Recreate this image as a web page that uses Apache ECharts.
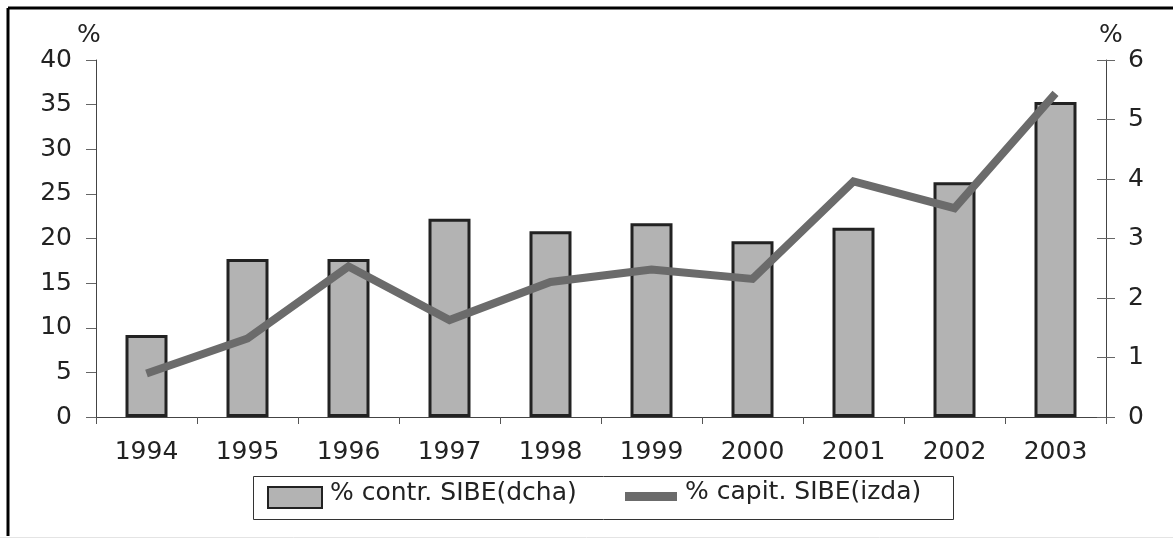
<!DOCTYPE html>
<html>
<head>
<meta charset="utf-8">
<script src="https://cdn.jsdelivr.net/npm/echarts@6/dist/echarts.min.js"></script>
<style>
	html, body { margin: 0; padding: 0; background: #fff; }
	#chart { width: 1173px; height: 538px; }
</style>
</head>
<body>
<div id="chart"></div>
<script>
	var years = ['1994', '1995', '1996', '1997', '1998', '1999', '2000', '2001', '2002', '2003'];
	var contrSibe = [9.2, 17.7, 17.7, 22.2, 20.8, 21.7, 19.7, 21.2, 26.3, 35.3];
	var capitSibe = [0.73, 1.32, 2.53, 1.63, 2.27, 2.48, 2.32, 3.96, 3.51, 5.44];
	var leftTicks = { min: 0, max: 40, interval: 5 };
	var rightTicks = { min: 0, max: 6, interval: 1 };

	var font = 'DejaVu Sans';
	// rich text so the legend label can sit a little above the icon centre
	var legendText = {
		fontFamily: font, fontSize: 25, color: '#222',
		rich: { t: { fontFamily: font, fontSize: 25, color: '#222', padding: [0, 0, 8, 3] } }
	};
	var chart = echarts.init(document.getElementById('chart'));
	chart.setOption({
		animation: false,
		textStyle: { fontFamily: font },
		grid: { left: 96, right: 67, top: 60, bottom: 121 },
		graphic: [
			{ type: 'line', shape: { x1: 8, y1: 8, x2: 1173, y2: 8 }, style: { stroke: '#000', lineWidth: 3 } },
			{ type: 'line', shape: { x1: 8, y1: 8, x2: 8, y2: 536 }, style: { stroke: '#000', lineWidth: 3 } },
			{ type: 'line', shape: { x1: 0, y1: 537.5, x2: 1173, y2: 537.5 }, style: { stroke: '#e4e4e4', lineWidth: 1 } },
			{ type: 'rect', shape: { x: 253.5, y: 476.5, width: 700, height: 43 }, style: { fill: 'none', stroke: '#333', lineWidth: 1 } }
		],
		legend: [{
			data: ['% contr. SIBE(dcha)'],
			left: 267, top: 481, padding: 0,
			itemWidth: 54, itemHeight: 21, itemGap: 0,
			icon: 'rect',
			formatter: '{t|{name}}',
			textStyle: legendText
		}, {
			data: [{ name: '% capit. SIBE(izda)', icon: 'rect', itemStyle: { color: '#6b6b6b', borderWidth: 0 } }],
			left: 625, top: 480, padding: 0,
			itemWidth: 52, itemHeight: 9,
			formatter: '{t|{name}}',
			textStyle: legendText
		}],
		xAxis: {
			type: 'category',
			data: years,
			axisLine: { lineStyle: { color: '#444', width: 1 } },
			axisTick: { show: true, interval: 0, length: 7, lineStyle: { color: '#555' } },
			axisLabel: { fontSize: 25, color: '#222', margin: 23 }
		},
		yAxis: [{
			type: 'value',
			min: leftTicks.min, max: leftTicks.max, interval: leftTicks.interval,
			name: '%', nameLocation: 'end', nameGap: 4,
			nameTextStyle: { fontSize: 25, color: '#222', padding: [0, 14, 0, 0] },
			axisLine: { show: true, lineStyle: { color: '#444' } },
			axisTick: { show: true, length: 10, lineStyle: { color: '#666' } },
			axisLabel: { fontSize: 25, color: '#222', margin: 24 },
			splitLine: { show: false }
		}, {
			type: 'value', position: 'right',
			min: rightTicks.min, max: rightTicks.max, interval: rightTicks.interval,
			name: '%', nameLocation: 'end', nameGap: 4,
			nameTextStyle: { fontSize: 25, color: '#222', padding: [0, 0, 0, 10] },
			axisLine: { show: true, lineStyle: { color: '#444' } },
			axisTick: { show: true, length: 9, lineStyle: { color: '#666' } },
			axisLabel: { fontSize: 25, color: '#222', margin: 22 },
			splitLine: { show: false }
		}, {
			type: 'value', position: 'right',
			min: rightTicks.min, max: rightTicks.max, interval: rightTicks.interval,
			axisLine: { show: false },
			axisTick: { show: true, inside: true, length: 9, lineStyle: { color: '#666' } },
			axisLabel: { show: false },
			splitLine: { show: false }
		}],
		series: [{
			name: '% contr. SIBE(dcha)',
			type: 'bar',
			yAxisIndex: 0,
			data: contrSibe,
			barWidth: 42,
			itemStyle: { color: '#b3b3b3', borderColor: '#222', borderWidth: 3 }
		}, {
			name: '% capit. SIBE(izda)',
			type: 'line',
			yAxisIndex: 1,
			data: capitSibe,
			symbol: 'none',
			lineStyle: { color: '#6b6b6b', width: 8, cap: 'butt', join: 'miter' },
			itemStyle: { color: '#6b6b6b' },
			z: 3
		}]
	});
</script>
</body>
</html>
